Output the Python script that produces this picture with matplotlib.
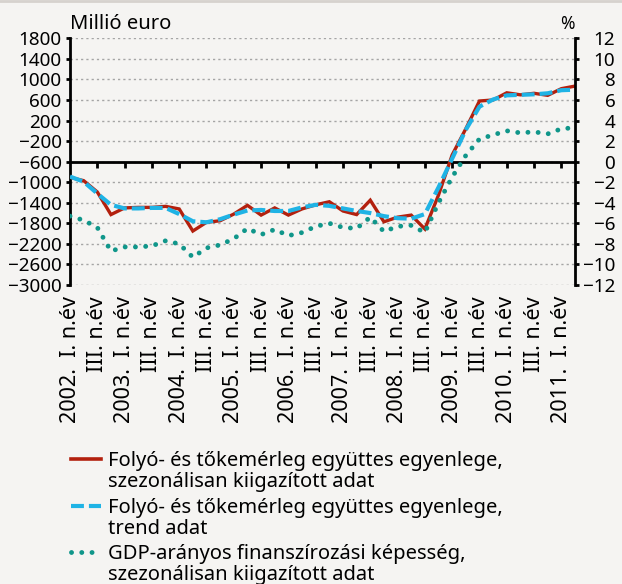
import matplotlib
matplotlib.use("Agg")
import matplotlib.pyplot as plt
from matplotlib.lines import Line2D
import numpy as np

plt.rcParams['font.family'] = ['Noto Sans', 'DejaVu Sans']

# ---- data (quarterly, 2002 Q1 .. 2011 Q2) ----
red_sa = [-905, -970, -1190, -1630, -1500, -1490, -1490, -1470, -1520, -1950,
          -1780, -1750, -1620, -1450, -1640, -1500, -1640, -1520, -1440, -1380,
          -1560, -1630, -1350, -1770, -1680, -1640, -1910, -1250, -470, 40,
          580, 600, 740, 700, 730, 690, 820, 870]
blue_trend = [-890, -990, -1220, -1440, -1510, -1510, -1500, -1500, -1620, -1760,
              -1780, -1720, -1630, -1550, -1540, -1560, -1560, -1490, -1440, -1460,
              -1510, -1560, -1600, -1660, -1700, -1710, -1620, -1100, -540, 20,
              470, 610, 690, 700, 710, 730, 790, 800]
green_gdp = [-5.3, -5.7, -6.4, -8.7, -8.3, -8.3, -8.2, -7.7, -8.0, -9.3,
             -8.4, -8.1, -7.5, -6.5, -7.1, -6.6, -7.2, -6.9, -6.3, -6.0,
             -6.4, -6.5, -5.4, -6.8, -6.3, -6.2, -6.9, -4.0, -1.5, 0.6,
             2.2, 2.6, 3.0, 2.8, 2.9, 2.7, 3.2, 3.3]

xtick_labels = ["2002.  I. n.év", "III. n.év", "2003.  I. n.év", "III. n.év",
                "2004.  I. n.év", "III. n.év", "2005.  I. n.év", "III. n.év",
                "2006.  I. n.év", "III. n.év", "2007.  I. n.év", "III. n.év",
                "2008.  I. n.év", "III. n.év", "2009.  I. n.év", "III. n.év",
                "2010.  I. n.év", "III. n.év", "2011.  I. n.év"]
left_ticks = [1800, 1400, 1000, 600, 200, -200, -600, -1000, -1400, -1800,
              -2200, -2600, -3000]
right_ticks = [12, 10, 8, 6, 4, 2, 0, -2, -4, -6, -8, -10, -12]

legend_labels = [
    ["Folyó- és tőkemérleg együttes egyenlege,", "szezonálisan kiigazított adat"],
    ["Folyó- és tőkemérleg együttes egyenlege,", "trend adat"],
    ["GDP-arányos finanszírozási képesség,", "szezonálisan kiigazított adat"],
]

# ---- style ----
BG = "#f5f4f2"
RED = "#b3200e"
BLUE = "#1fb3e5"
GREEN = "#10968a"
FS = 13.6
FS_X = 15.6
FS_LEG = 14.5

W, H = 622, 584
fig = plt.figure(figsize=(W / 100, H / 100), dpi=100, facecolor=BG)

def fx(px):
    return px / W

def fy(py):
    return 1 - py / H

ax_l, ax_r, ax_t, ax_b = 70, 575, 38.3, 285
ax = fig.add_axes([fx(ax_l), fy(ax_b), fx(ax_r - ax_l), (ax_b - ax_t) / H])
ax.set_facecolor(BG)
ax2 = ax.twinx()

x = np.arange(len(red_sa))
ax.set_xlim(0, len(red_sa) - 1)
ax.set_ylim(-3000, 1800)
ax2.set_ylim(-12, 12)

# grid
ax.set_yticks(left_ticks)
ax.set_yticklabels([f"{v}".replace("-", "\u2212") for v in left_ticks])
ax.yaxis.grid(True, color="#a5a5a5", linestyle=(0, (1.6, 2.2)), linewidth=1.0)
ax.set_axisbelow(True)

ax2.set_yticks(right_ticks)
ax2.set_yticklabels([f"{v}".replace("-", "\u2212") for v in right_ticks],
                    ha='right')

# series
ax.plot(x, red_sa, color=RED, lw=2.4, solid_joinstyle="miter", zorder=3)
ax.plot(x, blue_trend, color=BLUE, lw=3.0, linestyle=(0, (3.1, 1.2)), zorder=4)
ax2.plot(x, green_gdp, color=GREEN, lw=3.5, linestyle=(0, (0.01, 2.1)),
         dash_capstyle="round", zorder=3)

# spines
for a in (ax, ax2):
    for s in a.spines.values():
        s.set_visible(False)
ax.spines['left'].set_visible(True)
ax.spines['left'].set_linewidth(2.0)
ax2.spines['right'].set_visible(True)
ax2.spines['right'].set_linewidth(2.0)
ax.spines['bottom'].set_visible(True)
ax.spines['bottom'].set_position(('data', -600))
ax.spines['bottom'].set_linewidth(2.0)
ax.spines['bottom'].set_zorder(2)

ax.set_xticks(np.arange(2, len(red_sa) - 1, 2))
ax.tick_params(axis='x', direction='out', length=4, width=2, labelbottom=False)
ax.tick_params(axis='y', direction='out', length=3, width=2, labelsize=FS, pad=3)
ax2.tick_params(axis='y', direction='out', length=3, width=2, labelsize=FS, pad=26)

sec = ax.secondary_xaxis('bottom')
sec.set_xticks(np.arange(0, len(red_sa), 2)[:len(xtick_labels)])
sec.set_xticklabels(xtick_labels, rotation=90, fontsize=FS_X, va='top', ha='center')
sec.tick_params(axis='x', length=0, pad=8)
sec.spines['bottom'].set_visible(False)

# axis titles
fig.text(fx(70), fy(29), "Millió euro", fontsize=FS_LEG, ha='left', va='baseline')
fig.text(fx(575), fy(29), "%", fontsize=FS - 1, ha='right', va='baseline')

# legend (manual)
styles = [dict(color=RED, lw=2.6),
          dict(color=BLUE, lw=3.0, linestyle=(0, (3.1, 1.2))),
          dict(color=GREEN, lw=3.5, linestyle=(0, (0.01, 2.1)), dash_capstyle="round")]
first_centers = [459, 506, 552]
for lines, st, yc in zip(legend_labels, styles, first_centers):
    fig.add_artist(Line2D([fx(71), fx(101)], [fy(yc), fy(yc)],
                          transform=fig.transFigure, **st))
    for k, t in enumerate(lines):
        fig.text(fx(108), fy(yc + 7 + 21.3 * k), t, fontsize=FS_LEG,
                 ha='left', va='baseline')

# top border
fig.add_artist(Line2D([0, 1], [fy(1), fy(1)], transform=fig.transFigure,
                      color="#d6d2ce", lw=2))

fig.savefig("out.png", dpi=100, facecolor=BG)
